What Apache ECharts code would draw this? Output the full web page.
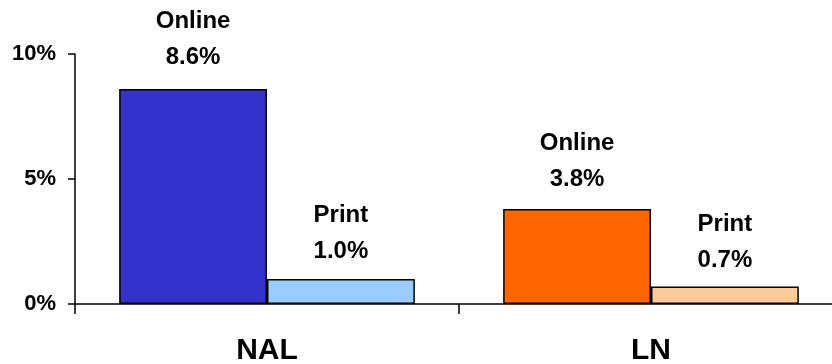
<!DOCTYPE html>
<html>
<head>
<meta charset="utf-8">
<script src="https://cdn.jsdelivr.net/npm/echarts@6/dist/echarts.min.js"></script>
<style>
  html, body { margin: 0; padding: 0; background: #fff; }
  #chart { width: 832px; height: 364px; }
</style>
</head>
<body>
<div id="chart"></div>
<script>
// Categories and shares (%)
const categories = ['NAL', 'LN'];
const onlineValues = [8.6, 3.8];
const printValues = [1.0, 0.7];
const onlineColors = ['#3333CC', '#FF6600'];
const printColors = ['#99CCFF', '#FFCC99'];
const yTicks = { min: 0, max: 10, interval: 5 };

const FONT = 'Liberation Sans, Arial, sans-serif';
const chart = echarts.init(document.getElementById('chart'), null, { renderer: 'canvas' });

function labelFmt(p) {
  return p.seriesName + '\n' + p.value.toFixed(1) + '%';
}

function buildSeries(name, values, colors, dists) {
  return {
    name: name,
    type: 'bar',
    barGap: '0%',
    barCategoryGap: '23%',
    data: values.map((v, i) => ({
      value: v,
      itemStyle: { color: colors[i], borderColor: '#000', borderWidth: 1.5 },
      label: { distance: dists[i] }
    })),
    label: {
      show: true,
      position: 'top',
      formatter: labelFmt,
      color: '#000',
      fontFamily: FONT,
      fontWeight: 'bold',
      fontSize: 24,
      lineHeight: 36
    },
    emphasis: { disabled: true }
  };
}

chart.setOption({
  animation: false,
  backgroundColor: '#fff',
  grid: {
    left: 75, top: 54, width: 768, height: 250,
    containLabel: false, outerBoundsMode: 'none'
  },
  xAxis: {
    type: 'category',
    data: categories,
    axisLine: { lineStyle: { color: '#000', width: 1.5 } },
    axisTick: { show: true, length: 10, lineStyle: { color: '#000', width: 1.5 } },
    axisLabel: {
      color: '#000', fontFamily: FONT, fontWeight: 'bold', fontSize: 30, margin: 32
    }
  },
  yAxis: {
    type: 'value',
    min: yTicks.min,
    max: yTicks.max,
    interval: yTicks.interval,
    axisLine: { show: true, lineStyle: { color: '#000', width: 1.5 } },
    axisTick: { show: true, length: 7, lineStyle: { color: '#000', width: 1.5 } },
    splitLine: { show: false },
    axisLabel: {
      color: '#000', fontFamily: FONT, fontWeight: 'bold', fontSize: 22, margin: 19,
      formatter: '{value}%'
    }
  },
  series: [
    buildSeries('Online', onlineValues, onlineColors, [14, 12]),
    buildSeries('Print', printValues, printColors, [10, 8])
  ]
});
</script>
</body>
</html>
